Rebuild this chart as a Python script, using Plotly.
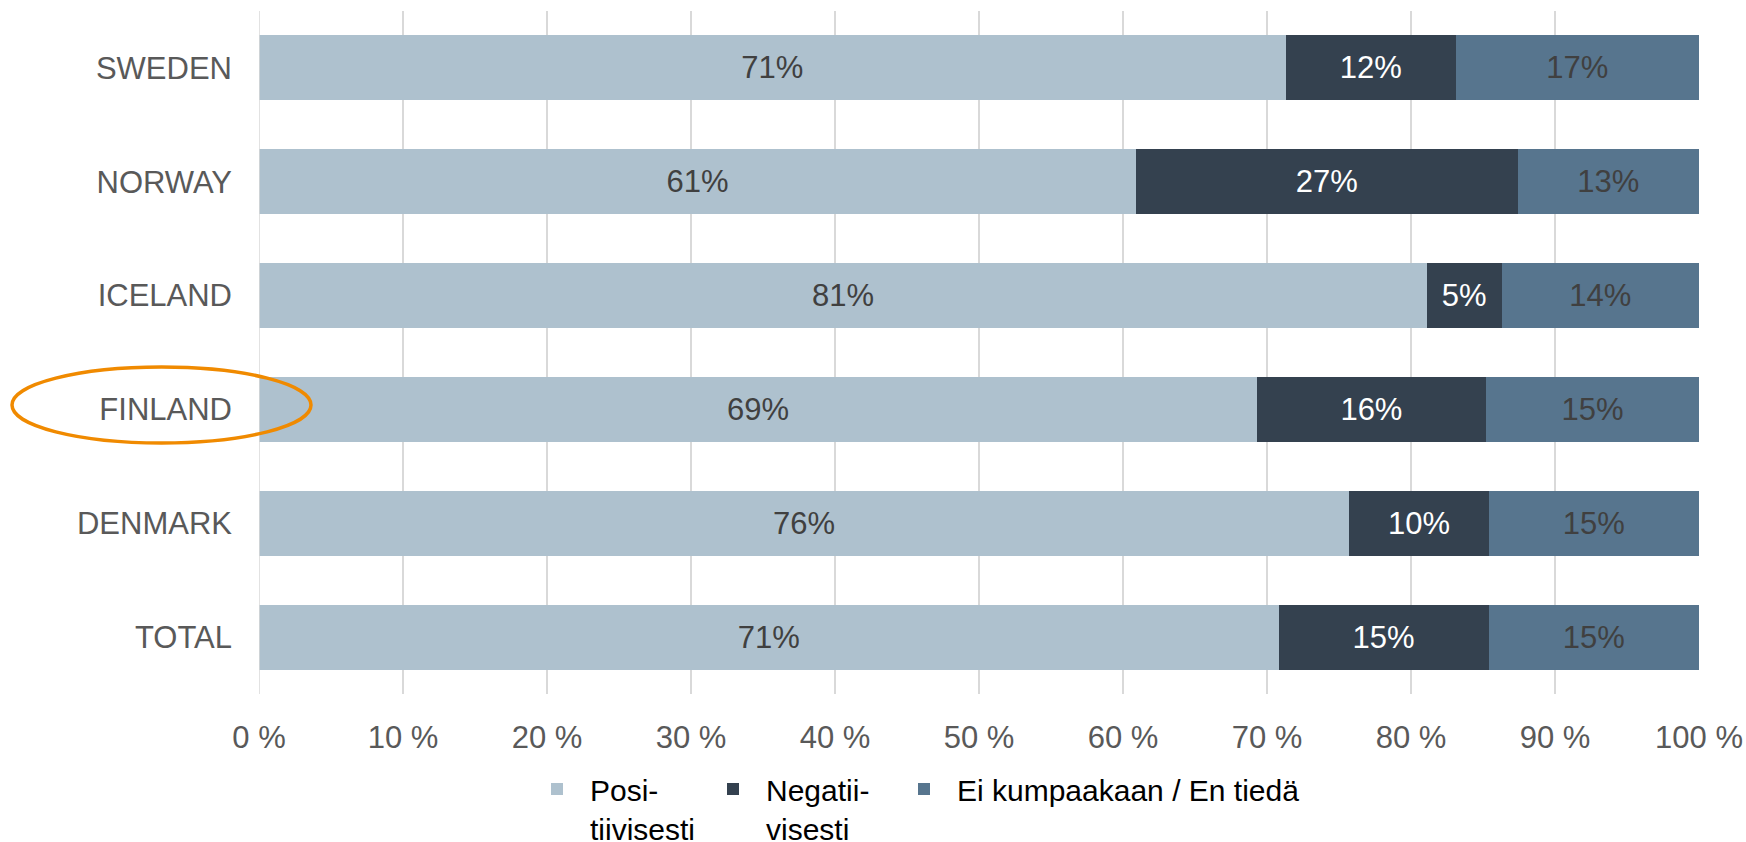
import plotly.graph_objects as go

countries = ["SWEDEN", "NORWAY", "ICELAND", "FINLAND", "DENMARK", "TOTAL"]
positive = [71.3, 60.9, 81.1, 69.3, 75.7, 70.8]
negative = [11.8, 26.5, 5.2, 15.9, 9.7, 14.6]
neutral = [16.9, 12.6, 13.7, 14.8, 14.6, 14.6]
positive_lbl = ["71%", "61%", "81%", "69%", "76%", "71%"]
negative_lbl = ["12%", "27%", "5%", "16%", "10%", "15%"]
neutral_lbl = ["17%", "13%", "14%", "15%", "15%", "15%"]
series_names = ["Posi-<br>tiivisesti", "Negatii-<br>visesti", "Ei kumpaakaan / En tiedä"]
x_ticks = [0, 10, 20, 30, 40, 50, 60, 70, 80, 90, 100]

colors = ["#AEC1CE", "#34414F", "#57758E"]
text_colors = ["#404040", "#FFFFFF", "#404040"]
FONT = "Liberation Sans, Arial, sans-serif"

W, H = 1746, 842
L, R, T, B = 259, 47, 11, 148
PW, PH = W - L - R, H - T - B

def px_x(p):
    return (p - L) / PW

def px_y(p):
    return (H - B - p) / PH

fig = go.Figure()
data = [(positive, positive_lbl), (negative, negative_lbl), (neutral, neutral_lbl)]
legend_ids = ["legend", "legend2", "legend3"]
for i, (vals, lbls) in enumerate(data):
    fig.add_trace(go.Bar(
        y=countries, x=vals, orientation="h", name=series_names[i],
        marker=dict(color=colors[i], line=dict(width=0)),
        text=lbls, textposition="inside", insidetextanchor="middle",
        textangle=0, constraintext="none",
        textfont=dict(family=FONT, size=31, color=text_colors[i]),
        legend=legend_ids[i], hoverinfo="skip",
    ))

legend_common = dict(
    orientation="h", yanchor="top", xanchor="left", valign="top",
    font=dict(family=FONT, size=30, color="#000000"),
    bgcolor="rgba(0,0,0,0)", borderwidth=0, itemclick=False,
    itemwidth=56,
)
leg_y = px_y(763)
fig.update_layout(
    width=W, height=H,
    margin=dict(l=L, r=R, t=T, b=B, pad=0, autoexpand=False),
    paper_bgcolor="white", plot_bgcolor="white",
    barmode="stack", bargap=0.43,
    font=dict(family=FONT, size=31, color="#595959"),
    xaxis=dict(
        range=[0, 100], tickvals=x_ticks, ticktext=[f"{v} %" for v in x_ticks],
        showgrid=True, gridcolor="#D9D9D9", gridwidth=1.5,
        zeroline=False, showline=False, ticks="",
        ticklabelstandoff=22, automargin=False,
        tickfont=dict(family=FONT, size=31, color="#595959"),
        fixedrange=True,
    ),
    yaxis=dict(
        categoryorder="array", categoryarray=countries, autorange="reversed",
        showgrid=False, zeroline=False, showline=False, ticks="",
        ticklabelstandoff=26, automargin=False,
        tickfont=dict(family=FONT, size=31, color="#595959"),
        fixedrange=True,
    ),
    legend=dict(x=px_x(524), y=leg_y, **legend_common),
    legend2=dict(x=px_x(700), y=leg_y, **legend_common),
    legend3=dict(x=px_x(891), y=leg_y, **legend_common),
    showlegend=True,
)

fig.add_shape(
    type="line", xref="x", yref="paper", x0=0, x1=0, y0=0, y1=1,
    line=dict(color="#D9D9D9", width=1.5), layer="above",
)
fig.add_shape(
    type="circle", xref="paper", yref="paper",
    x0=px_x(12), x1=px_x(311), y0=px_y(443), y1=px_y(367),
    line=dict(color="#F08A00", width=3.5), fillcolor="rgba(0,0,0,0)", layer="above",
)

fig.write_html(
    "out.html",
    config={"displayModeBar": False},
    post_script="document.body.style.margin='0';document.body.style.overflow='hidden';",
)
